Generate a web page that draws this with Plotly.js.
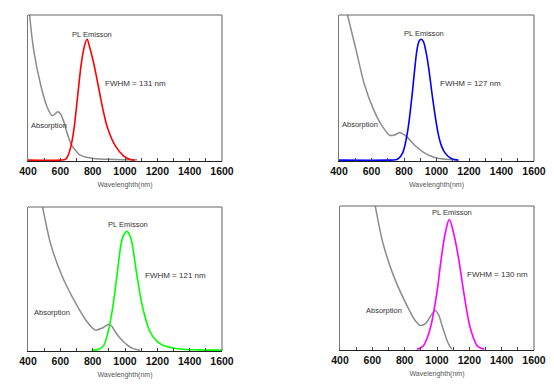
<!DOCTYPE html>
<html>
<head>
<meta charset="utf-8">
<script src="https://cdn.plot.ly/plotly-3.0.1.min.js"></script>
<style>html,body{margin:0;padding:0;background:#fff;}#chart{width:554px;height:386px;}</style>
</head>
<body>
<div id="chart"></div>
<script>
// ---- Panel 1 (red) ----
const abs1X = [400,410,435,476,517,548,565,583,600,620,641,672,700,723,760,806,900,1000,1075];
const abs1Y = [1.15,1.0,0.76,0.53,0.37,0.308,0.315,0.333,0.32,0.27,0.19,0.098,0.06,0.034,0.02,0.012,0.006,0.003,0.002];
const pl1X = [400,600,631,647,666,684,707,730,748,765,781,806,827,847,868,895,940,991,1033,1060];
const pl1Y = [0,0,0.005,0.03,0.098,0.212,0.44,0.669,0.78,0.833,0.78,0.669,0.555,0.44,0.327,0.212,0.098,0.03,0.005,0];
// ---- Panel 2 (blue) ----
const abs2X = [440,453,505,554,612,663,714,745,775,800,827,860,889,925,960,1000,1042,1100];
const abs2Y = [1.08,1.0,0.76,0.53,0.35,0.24,0.17,0.175,0.19,0.175,0.15,0.11,0.08,0.05,0.03,0.015,0.007,0.002];
const pl2X = [400,700,750,765,792,821,847,868,880,893,905,918,933,950,977,1009,1030,1052,1093,1135];
const pl2Y = [0,0,0.003,0.01,0.05,0.19,0.42,0.65,0.76,0.82,0.833,0.82,0.76,0.65,0.42,0.19,0.10,0.05,0.01,0];
// ---- Panel 3 (green) ----
const abs3X = [475,490,538,610,694,764,815,860,897,920,938,965,990,1015,1043,1070,1094];
const abs3Y = [1.08,1.0,0.75,0.52,0.33,0.20,0.14,0.155,0.18,0.165,0.13,0.09,0.06,0.035,0.014,0.005,0];
const pl3X = [800,840,868,895,923,950,977,990,1012,1030,1043,1074,1111,1156,1200,1238,1300,1362,1450,1600];
const pl3Y = [0,0.006,0.033,0.125,0.29,0.52,0.75,0.80,0.83,0.80,0.75,0.52,0.29,0.125,0.06,0.033,0.015,0.006,0.002,0];
// ---- Panel 4 (magenta) ----
const abs4X = [605,618,666,732,825,865,897,930,960,989,1010,1031,1050,1066,1080,1093];
const abs4Y = [1.08,1.0,0.74,0.51,0.28,0.20,0.165,0.18,0.23,0.27,0.24,0.165,0.10,0.05,0.02,0];
const pl4X = [876,900,917,940,963,1000,1026,1051,1076,1103,1134,1165,1202,1225,1247,1270,1292];
const pl4Y = [0,0.01,0.026,0.08,0.165,0.40,0.63,0.81,0.905,0.81,0.63,0.40,0.165,0.08,0.026,0.008,0];

const plColors = ['#ff0000','#0000ff','#00ff00','#ff00ff'];
const fwhmLabels = ['FWHM = 131 nm','FWHM = 127 nm','FWHM = 121 nm','FWHM = 130 nm'];
const tickVals = [400,600,800,1000,1200,1400,1600];
const tickText = ['400','600','800','1000','1200','1400','1600'];
const xTitle = 'Wavelenghth(nm)';

const absX = [abs1X,abs2X,abs3X,abs4X], absY = [abs1Y,abs2Y,abs3Y,abs4Y];
const plX = [pl1X,pl2X,pl3X,pl4X], plY = [pl1Y,pl2Y,pl3Y,pl4Y];

const traces = [];
for (let i = 0; i < 4; i++) {
  const xa = i === 0 ? 'x' : 'x' + (i + 1);
  const ya = i === 0 ? 'y' : 'y' + (i + 1);
  traces.push({x: absX[i], y: absY[i], xaxis: xa, yaxis: ya, mode: 'lines', type: 'scatter',
    line: {color: '#8c8c8c', width: 1.5, shape: 'spline', smoothing: 0.8}, hoverinfo: 'skip'});
  traces.push({x: plX[i], y: plY[i], xaxis: xa, yaxis: ya, mode: 'lines', type: 'scatter',
    line: {color: plColors[i], width: 1.6, shape: 'spline', smoothing: 1}, hoverinfo: 'skip'});
}

const xDomains = [[28/554, 222/554],[339/554, 534/554],[28/554, 222/554],[340/554, 534/554]];
const yDomains = [[1-161/386, 1-15/386],[1-161/386, 1-15/386],[1-351/386, 1-207/386],[1-350/386, 1-206/386]];

const layout = {
  width: 554, height: 386,
  margin: {l: 0, r: 0, t: 0, b: 0},
  paper_bgcolor: '#ffffff', plot_bgcolor: '#ffffff',
  showlegend: false,
  font: {family: 'Liberation Sans, Arial, sans-serif', color: '#333'},
  annotations: [],
  shapes: []
};

const plPos = [[796,0.868],[925,0.875],[1018,0.877],[1093,0.958]];
const fwPos = [[866,0.527],[1012,0.525],[1111,0.523],[1171,0.519]];
const abPos = [[408,0.24],[406,0.247],[425,0.264],[547,0.269]];

for (let i = 0; i < 4; i++) {
  const k = i === 0 ? '' : (i + 1);
  layout['xaxis' + k] = {
    domain: xDomains[i], range: [400, 1600], anchor: 'y' + k,
    showline: true, linecolor: '#222', linewidth: 1, mirror: false,
    showgrid: false, zeroline: false,
    tickmode: 'array', tickvals: tickVals, ticktext: tickText,
    ticks: 'inside', ticklen: 3, tickcolor: '#444',
    minor: {dtick: 100, tick0: 400, ticks: 'inside', ticklen: 3, tickcolor: '#444', showgrid: false},
    tickfont: {family: 'Liberation Sans, Arial, sans-serif', size: 10.5, color: '#111', weight: 'bold'},
    title: {text: xTitle, font: {size: 7, color: '#555'}, standoff: 6}
  };
  layout['yaxis' + k] = {
    domain: yDomains[i], range: [-0.006, 1], anchor: 'x' + k,
    showline: true, linecolor: '#777', linewidth: 1.2, mirror: false,
    showgrid: false, zeroline: false, showticklabels: false, ticks: ''
  };
  layout.shapes.push({type: 'line', xref: 'x' + k + ' domain', yref: 'y' + k + ' domain',
    x0: 0, x1: 1, y0: 1, y1: 1, line: {color: '#666', width: 1.2}});
  layout.shapes.push({type: 'line', xref: 'x' + k + ' domain', yref: 'y' + k + ' domain',
    x0: 1, x1: 1, y0: 0, y1: 1, line: {color: '#777', width: 1.2}});
  const xr = 'x' + k, yr = 'y' + k;
  layout.annotations.push({text: 'PL Emisson', x: plPos[i][0], y: plPos[i][1], xref: xr, yref: yr,
    showarrow: false, xanchor: 'center', yanchor: 'middle', font: {size: 7.5, color: '#333'}});
  layout.annotations.push({text: fwhmLabels[i], x: fwPos[i][0], y: fwPos[i][1], xref: xr, yref: yr,
    showarrow: false, xanchor: 'left', yanchor: 'middle', font: {size: 8, color: '#333'}});
  layout.annotations.push({text: 'Absorption', x: abPos[i][0], y: abPos[i][1], xref: xr, yref: yr,
    showarrow: false, xanchor: 'left', yanchor: 'middle', font: {size: 7.5, color: '#333'}});
}

Plotly.newPlot('chart', traces, layout, {staticPlot: true, displayModeBar: false});
</script>
</body>
</html>
